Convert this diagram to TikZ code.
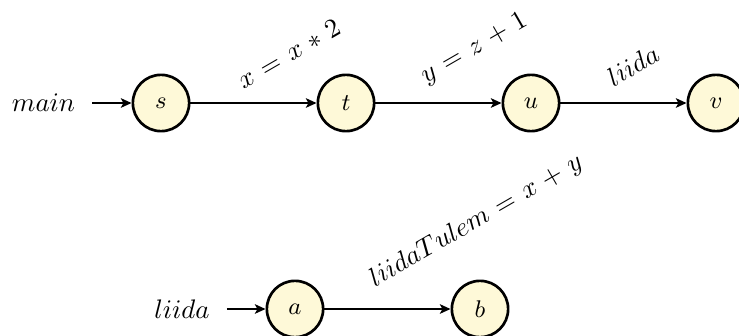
\documentclass[tikz,border=0pt]{standalone}
\usetikzlibrary{arrows.meta}
\definecolor{nodefill}{RGB}{254,249,216}
\begin{document}
\begin{tikzpicture}[x=0.373pt,y=-0.373pt,
  every node/.style={font=\fontsize{10.4}{12.5}\selectfont},
  state/.style={circle,draw=black,line width=1pt,fill=nodefill,minimum size=21pt,inner sep=0pt,font=\fontsize{9.2}{11}\selectfont},
  entry/.style={inner xsep=6.3pt,inner ysep=0pt},
  conn/.style={-{Stealth[length=4pt,width=3.6pt,inset=1pt]},line width=0.6pt},
  lab/.style={anchor=south west,rotate=30,
    execute at begin node={\thickmuskip=6.5mu plus 5mu\medmuskip=5.5mu plus 2mu minus 4mu}}]
\useasboundingbox (0,0) rectangle (739,335);
\node[state] (s) at (161,103) {$s$};
\node[state] (t) at (346,103) {$t$};
\node[state] (u) at (531,103) {$u$};
\node[state] (v) at (716,103) {$v$};
\node[state] (a) at (295,309) {$a$};
\node[state] (b) at (480,309) {$b$};
\node[entry] (main) at (43.5,103) {$main$};
\node[entry] (liida) at (182,309) {$liida$};
\draw[conn] (main) -- (s);
\draw[conn] (liida) -- (a);
\draw[conn] (s) -- node[xshift=-5pt,yshift=0pt,lab] {$x = x * 2$} (t);
\draw[conn] (t) -- node[xshift=-5pt,yshift=0.5pt,lab] {$y = z + 1$} (u);
\draw[conn] (u) -- node[xshift=-5pt,yshift=1pt,lab] {$liida$} (v);
\draw[conn] (a) -- node[xshift=-5pt,yshift=1.5pt,lab] {$liidaTulem = x + y$} (b);
\end{tikzpicture}
\end{document}
